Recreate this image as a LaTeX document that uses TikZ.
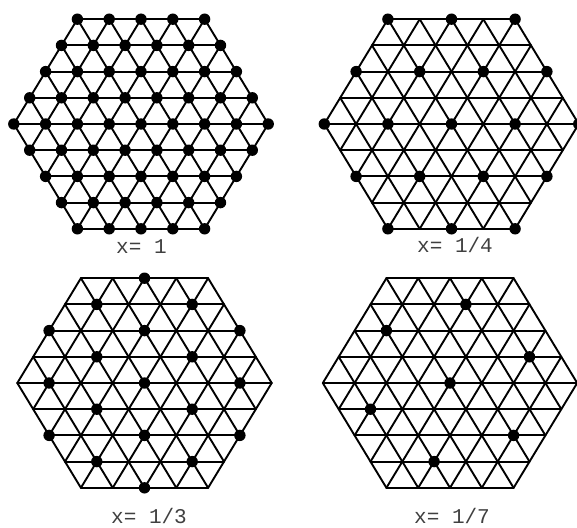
\documentclass[tikz,border=0pt]{standalone}
\usepackage{fontspec}
\newfontfamily\labelfont{Liberation Mono}
\usetikzlibrary{positioning}

\tikzset{
  bond/.style={line width=1.9pt, line cap=round},
  site/.style={fill=black},
  xlabel/.style={anchor=base west, inner sep=0pt, text=black!75,
    font=\labelfont\fontsize{21}{25}\selectfont}
}

\begin{document}
\begin{tikzpicture}[x=1pt,y=-1pt]
    \useasboundingbox (0,0) rectangle (577,527);

    % triangular lattice in each hexagon
    \foreach \cx/\cy in {141/124, 451.5/124, 144.5/383, 450/383} {
        \begin{scope}[xshift=\cx pt, yshift=-\cy pt, x=15.9pt, y=-26.2pt]
            \foreach \r in {-4,...,4} {
                \pgfmathsetmacro{\w}{8-abs(\r)}
                \draw[bond] (-\w,\r) -- (\w,\r);
            }
            \foreach \k in {-8,-6,...,8} {
                % down-right lines
                \pgfmathsetmacro{\ya}{max(-4,-4-\k/2)}
                \pgfmathsetmacro{\yb}{min(4,4-\k/2)}
                \pgfmathsetmacro{\xa}{\k+\ya}
                \pgfmathsetmacro{\xb}{\k+\yb}
                \draw[bond] (\xa,\ya) -- (\xb,\yb);
                % down-left lines
                \pgfmathsetmacro{\ya}{max(-4,-4+\k/2)}
                \pgfmathsetmacro{\yb}{min(4,4+\k/2)}
                \pgfmathsetmacro{\xa}{\k-\ya}
                \pgfmathsetmacro{\xb}{\k-\yb}
                \draw[bond] (\xa,\ya) -- (\xb,\yb);
            }
        \end{scope}
    }

    % x = 1: every site
    \begin{scope}[xshift=141pt, yshift=-124pt, x=15.9pt, y=-26.2pt]
        \foreach \r in {-4,...,4} {
            \foreach \s in {-8,...,8} {
                \pgfmathtruncatemacro{\ok}{(abs(\s)<=8-abs(\r)) && iseven(\s+\r)}
                \ifnum\ok=1
                    \fill[site] (\s,\r) circle[radius=5.7pt];
                \fi
            }
        }
    \end{scope}

    % x = 1/4: 2x2 cell
    \begin{scope}[xshift=451.5pt, yshift=-124pt, x=15.9pt, y=-26.2pt]
        \foreach \r in {-4,-2,...,4} {
            \foreach \s in {-8,...,8} {
                \pgfmathtruncatemacro{\ok}{(abs(\s)<=8-abs(\r)) && (mod(abs(\s-\r),4)==0)}
                \ifnum\ok=1
                    \fill[site] (\s,\r) circle[radius=5.7pt];
                \fi
            }
        }
    \end{scope}

    % x = 1/3: root3 cell
    \begin{scope}[xshift=144.5pt, yshift=-383pt, x=15.9pt, y=-26.2pt]
        \foreach \r in {-4,...,4} {
            \foreach \s in {-8,...,8} {
                \pgfmathtruncatemacro{\ok}{(abs(\s)<=8-abs(\r)) && iseven(\s+\r) && (mod(abs(\s),3)==0)}
                \ifnum\ok=1
                    \fill[site] (\s,\r) circle[radius=5.7pt];
                \fi
            }
        }
    \end{scope}

    % x = 1/7: root7 cell
    \begin{scope}[xshift=450pt, yshift=-383pt, x=15.9pt, y=-26.2pt]
        \foreach \s/\r in {1/-3, -4/-2, 5/-1, 0/0, -5/1, 4/2, -1/3}
            \fill[site] (\s,\r) circle[radius=5.7pt];
    \end{scope}

    \node[xlabel] (xone) at (116,253) {x= 1};
    \node[xlabel] (xquarter) at (417,252) {x= 1/4};
    \node[xlabel] (xthird) at (111,523) {x= 1/3};
    \node[xlabel] (xseventh) at (414,523) {x= 1/7};
\end{tikzpicture}
\end{document}
